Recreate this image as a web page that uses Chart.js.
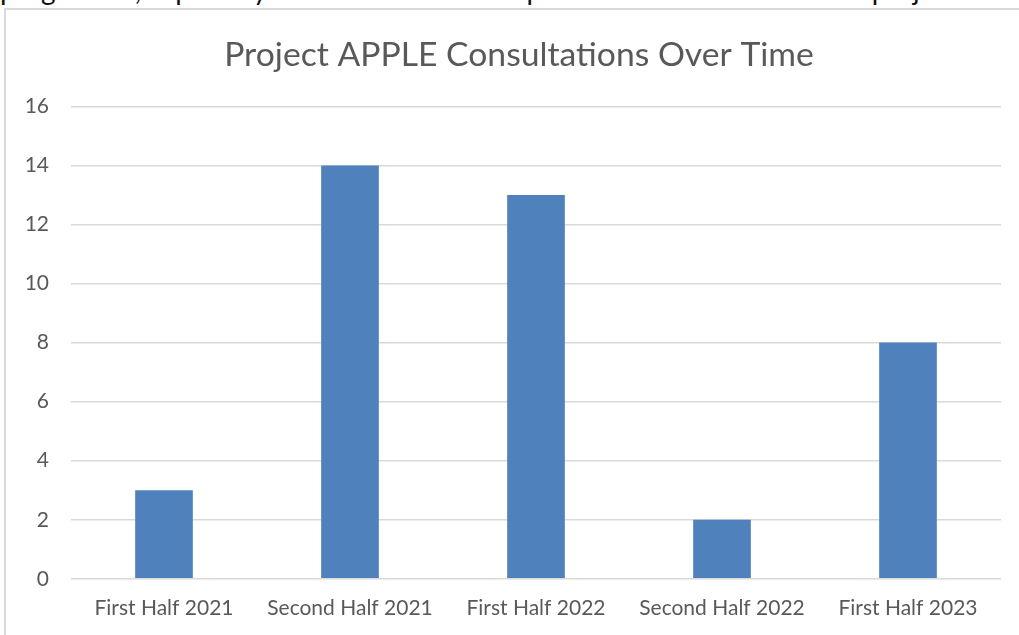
<!DOCTYPE html>
<html>
<head>
<meta charset="utf-8">
<script src="https://cdn.jsdelivr.net/npm/chart.js@4"></script>
<style>
  html, body { margin: 0; padding: 0; background: #fff; overflow: hidden; width: 1019px; height: 635px; }
  #above { position: absolute; left: 0; top: -25px; font: 28px Lato, sans-serif; line-height: 28px; color: #111; white-space: nowrap; }
  #frame { position: absolute; left: 4px; top: 8px; width: 1040px; height: 680px; border: 2px solid #d9d9d9; background: #fff; }
  #chart { position: absolute; left: 0; top: 0; }
</style>
</head>
<body>
<div id="above">progressed, especially in the latter half compared to the first half of the project.</div>
<div id="frame"><canvas id="chart" width="1013" height="650"></canvas></div>
<script>
// 半年度咨询次数
const periods = ['First Half 2021', 'Second Half 2021', 'First Half 2022', 'Second Half 2022', 'First Half 2023'];
const consultations = [3, 14, 13, 2, 8];
const yTicks = [0, 2, 4, 6, 8, 10, 12, 14, 16];

// 标题稍微右移
const titleShift = {
  id: 'titleShift',
  afterLayout: function (c) { c.titleBlock.left += 31; }
};

const ctx = document.getElementById('chart').getContext('2d');
const chart = new Chart(ctx, {
  type: 'bar',
  data: {
    labels: periods,
    datasets: [
      {
        label: 'Consultations',
        data: consultations,
        backgroundColor: '#4f81bd',
        borderWidth: 0,
        barPercentage: 0.31,
        categoryPercentage: 1
      }
    ]
  },
  options: {
    responsive: false,
    animation: false,
    layout: { padding: { left: 0, right: 18, top: 0, bottom: 22 } },
    plugins: {
      legend: { display: false },
      tooltip: { enabled: false },
      title: {
        display: true,
        text: 'Project APPLE Consultations Over Time',
        color: '#595959',
        font: { family: 'Lato', size: 33.7, weight: 'normal' },
        padding: { top: 25, bottom: 31 }
      }
    },
    scales: {
      x: {
        grid: { display: false, drawTicks: false },
        border: { display: false },
        ticks: {
          color: '#595959',
          font: { family: 'Lato', size: 21 },
          padding: 17,
          maxRotation: 0
        }
      },
      y: {
        min: 0,
        max: 16,
        afterFit: function (scale) { scale.width = 65; },
        afterBuildTicks: function (scale) { scale.ticks = yTicks.map(v => ({ value: v })); },
        grid: { color: '#d9d9d9', lineWidth: 1.5, drawTicks: false },
        border: { display: false },
        ticks: {
          color: '#595959',
          font: { family: 'Lato', size: 21 },
          padding: 22
        }
      }
    }
  },
  plugins: [titleShift]
});
</script>
</body>
</html>
